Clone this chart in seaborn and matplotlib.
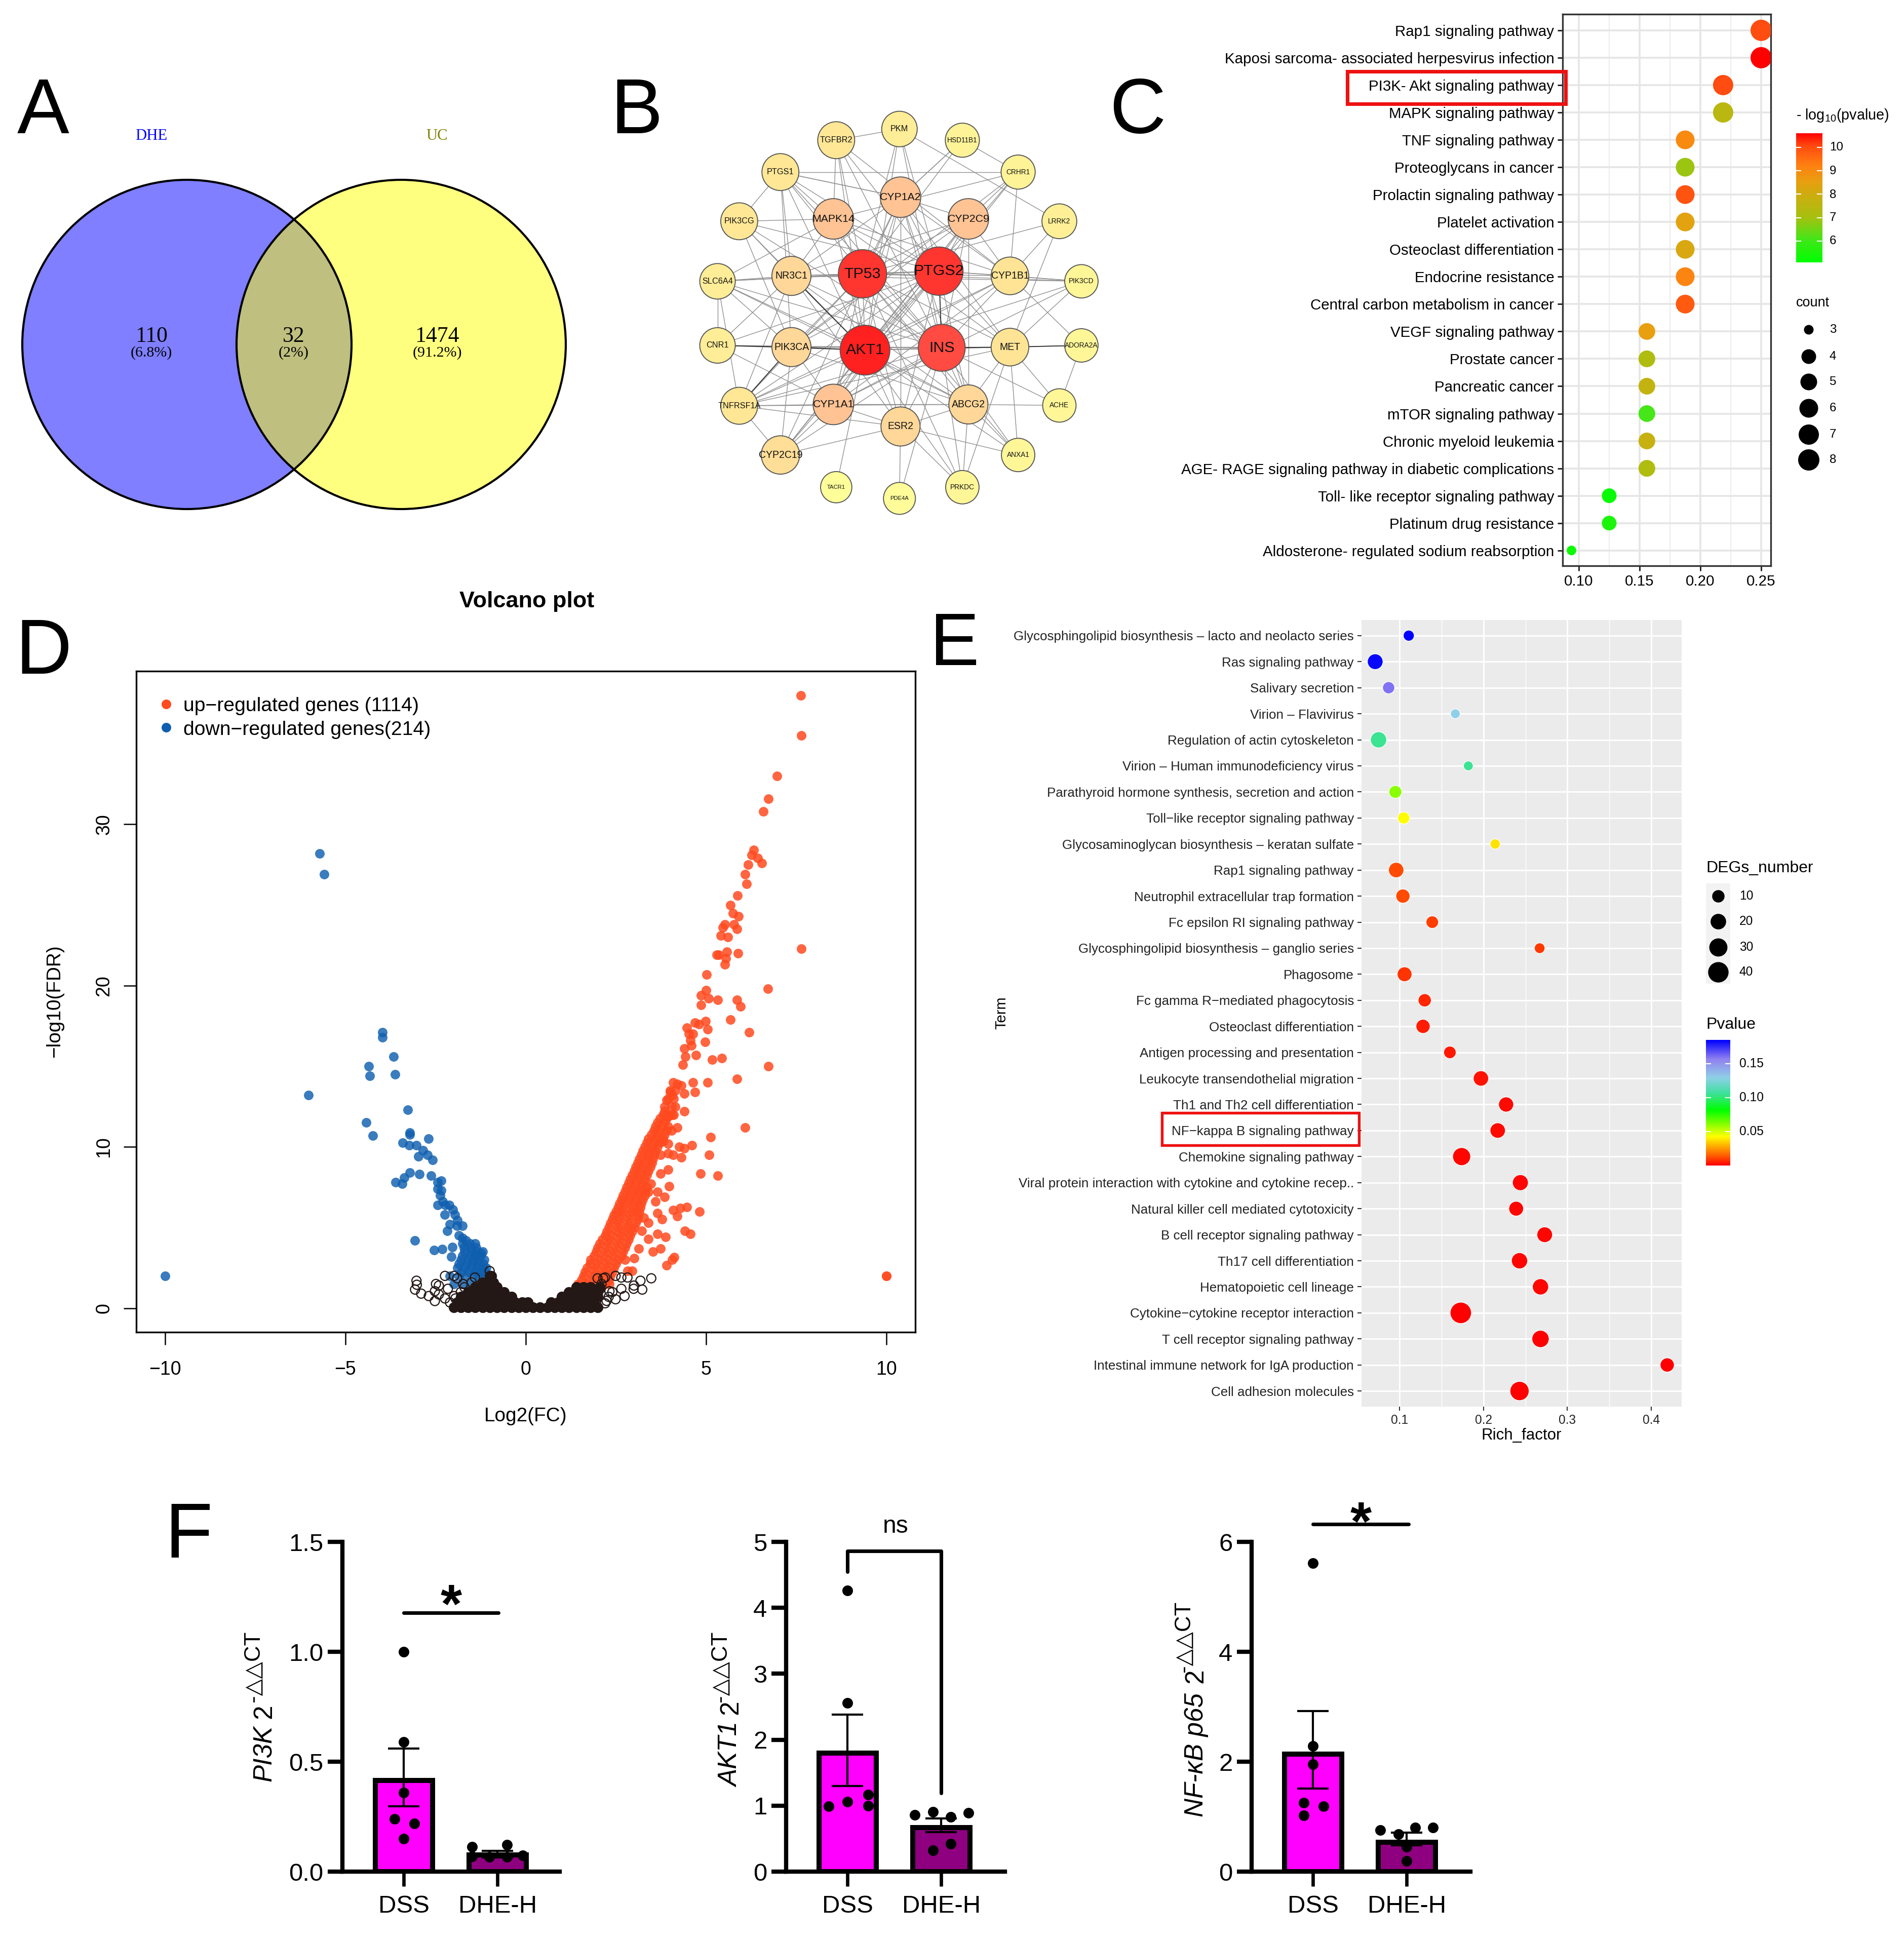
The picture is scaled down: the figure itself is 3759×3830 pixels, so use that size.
import numpy as np
import pandas as pd
import matplotlib
matplotlib.use("Agg")
import matplotlib.pyplot as plt
import seaborn as sns
from matplotlib.collections import LineCollection
from matplotlib.colors import LinearSegmentedColormap
from matplotlib.patches import Circle, Rectangle

# ---------- A: venn ----------
venn_names = ["DHE", "UC"]
venn_counts = ["110", "32", "1474"]
venn_pcts = ["(6.8%)", "(2%)", "(91.2%)"]

# ---------- B: network ----------
gene_names = ["PKM", "TGFBR2", "HSD11B1", "PTGS1", "CRHR1", "CYP1A2", "PIK3CG", "MAPK14", "CYP2C9", "LRRK2",
              "SLC6A4", "NR3C1", "TP53", "PTGS2", "CYP1B1", "PIK3CD", "CNR1", "PIK3CA", "AKT1", "INS", "MET",
              "ADORA2A", "TNFRSF1A", "CYP1A1", "ABCG2", "ACHE", "ESR2", "CYP2C19", "ANXA1", "PRKDC", "TACR1", "PDE4A"]
gene_degree = [10, 12, 8, 12, 8, 17, 12, 17, 17, 9, 10, 15, 28, 28, 13, 7, 10, 15, 30, 26, 13, 7, 12, 17, 15, 7,
               15, 14, 7, 7, 4, 5]
gene_x = [892, 714, 1069, 557, 1226, 895, 441, 706, 1086, 1342, 380, 588, 788, 1003, 1203, 1404, 380, 588, 795,
          1011, 1203, 1404, 441, 706, 1086, 1342, 895, 557, 1226, 1069, 714, 892]
gene_y = [231, 264, 264, 358, 358, 432, 503, 496, 496, 503, 680, 664, 658, 650, 664, 680, 869, 874, 883, 876, 874,
          869, 1047, 1043, 1043, 1046, 1108, 1192, 1192, 1287, 1287, 1320]
gene_links = {
    "AKT1": "TP53 PTGS2 INS MAPK14 NR3C1 PIK3CA MET CYP1A1 ESR2 ABCG2 TNFRSF1A CNR1 CYP2C19 PIK3CG PTGS1 TGFBR2 PKM CRHR1 CYP1A2 CYP2C9 CYP1B1 PIK3CD ANXA1 PRKDC TACR1 SLC6A4 ADORA2A",
    "INS": "TP53 PTGS2 MAPK14 NR3C1 PIK3CA MET CYP1A1 ESR2 ABCG2 TNFRSF1A CYP2C19 PIK3CG PTGS1 TGFBR2 PKM CYP1A2 CYP2C9 CYP1B1 ACHE ANXA1 PRKDC PDE4A SLC6A4 CNR1",
    "TP53": "PTGS2 MAPK14 NR3C1 PIK3CA MET CYP1A1 ESR2 ABCG2 TNFRSF1A CYP1A2 CYP2C9 CYP1B1 PTGS1 TGFBR2 PKM HSD11B1 PIK3CD LRRK2 SLC6A4 ANXA1 PRKDC",
    "PTGS2": "MAPK14 NR3C1 PIK3CA MET CYP1A1 ESR2 ABCG2 TNFRSF1A CYP1A2 CYP2C9 CYP1B1 PTGS1 TGFBR2 PKM CYP2C19 CRHR1 PIK3CD SLC6A4 CNR1 PIK3CG",
    "CYP1A2": "CYP1A1 CYP1B1 CYP2C9 ABCG2 PTGS1 HSD11B1 MET NR3C1 ESR2 CYP2C19",
    "MAPK14": "PIK3CG PTGS1 TGFBR2 NR3C1 CRHR1 SLC6A4 CYP1B1 MET",
    "CYP2C9": "CRHR1 NR3C1 CYP1B1 CYP1A1 ABCG2 PIK3CA CYP2C19",
    "NR3C1": "PIK3CG SLC6A4 CNR1 PTGS1 TNFRSF1A PIK3CD ABCG2 ESR2",
    "PIK3CA": "CNR1 TNFRSF1A SLC6A4 PIK3CG CYP1A1 CRHR1 MET CYP2C19 PTGS1 ABCG2",
    "CYP1B1": "LRRK2 PIK3CD ADORA2A CYP1A1 TNFRSF1A CRHR1 TGFBR2",
    "MET": "ADORA2A ACHE PIK3CD LRRK2 ABCG2 ANXA1 TNFRSF1A PRKDC",
    "CYP1A1": "CYP2C19 ESR2 ABCG2 TNFRSF1A CNR1 PIK3CD",
    "ESR2": "CYP2C19 ANXA1 PDE4A PRKDC ABCG2 TNFRSF1A",
    "ABCG2": "ANXA1 PRKDC ACHE TNFRSF1A SLC6A4",
    "PTGS1": "PIK3CG CYP1A2 CRHR1",
    "SLC6A4": "CNR1 TNFRSF1A",
    "HSD11B1": "CRHR1 CYP1A2",
    "PKM": "LRRK2 TGFBR2",
    "ACHE": "ADORA2A",
    "TNFRSF1A": "CYP2C19",
}

# ---------- C: KEGG bubble ----------
c_terms = ["Rap1 signaling pathway", "Kaposi sarcoma- associated herpesvirus infection", "PI3K- Akt signaling pathway",
           "MAPK signaling pathway", "TNF signaling pathway", "Proteoglycans in cancer", "Prolactin signaling pathway",
           "Platelet activation", "Osteoclast differentiation", "Endocrine resistance",
           "Central carbon metabolism in cancer", "VEGF signaling pathway", "Prostate cancer", "Pancreatic cancer",
           "mTOR signaling pathway", "Chronic myeloid leukemia",
           "AGE- RAGE signaling pathway in diabetic complications", "Toll- like receptor signaling pathway",
           "Platinum drug resistance", "Aldosterone- regulated sodium reabsorption"]
c_rich = [0.25, 0.25, 0.2187, 0.2187, 0.1875, 0.1875, 0.1875, 0.1875, 0.1875, 0.1875, 0.1875, 0.156, 0.156, 0.156,
          0.156, 0.156, 0.156, 0.125, 0.125, 0.094]
c_count = [8, 8, 7, 7, 6, 6, 6, 6, 6, 6, 6, 5, 5, 5, 5, 5, 5, 4, 4, 3]
c_logp = [10.0, 10.6, 10.0, 7.5, 9.0, 6.9, 9.9, 8.4, 8.2, 9.1, 9.8, 8.5, 7.2, 7.7, 6.1, 7.8, 7.2, 5.2, 5.5, 5.3]
c_legend_counts = [3, 4, 5, 6, 7, 8]

# ---------- D: volcano ----------
up_x = [7.63, 7.64, 6.96, 6.73, 6.58, 6.32, 6.27, 6.43, 6.55, 6.17, 6.08, 6.13, 5.87, 5.67, 5.74, 5.9, 5.52, 5.77,
        5.85, 5.47, 5.4, 5.6, 7.64, 5.58, 5.88, 5.3, 5.35, 5.55, 5.52, 5.02, 6.71, 5.0, 4.86, 5.07, 5.32, 5.85, 5.95,
        4.86, 5.68, 4.99, 4.69, 4.81, 4.47, 5.04, 6.2, 4.52, 4.64, 4.56, 4.97, 4.59, 4.39, 4.43, 4.72, 5.17, 5.44,
        4.36, 6.73, 5.85, 4.09, 4.64, 5.04, 4.2, 4.31, 4.0, 4.69, 4.39, 4.06, 3.9, 4.14, 4.39, 4.06, 3.85, 3.95, 6.08,
        4.2, 5.12, 3.81, 3.95, 4.6, 4.26, 4.39, 5.09, 3.95, 3.73, 4.08, 4.31, 4.84, 5.32, 3.95, 3.73, 3.98, 3.47, 3.65,
        3.4, 3.85, 3.6, 4.08, 4.29, 4.47, 4.82, 3.65, 3.78, 4.2, 3.27, 3.4, 4.41, 4.57, 3.65, 3.87, 3.22, 3.4, 3.73,
        4.11, 4.06, 3.91, 3.52, 3.13, 3.0, 2.82, 2.95, 2.32, 10.0, 10.0]
up_y = [38.0, 35.5, 33.0, 31.6, 30.8, 28.4, 28.1, 27.9, 27.6, 27.5, 26.9, 26.3, 25.6, 25.0, 24.5, 24.3, 23.8, 23.8,
        23.5, 23.6, 23.1, 23.0, 22.3, 22.1, 22.0, 21.9, 21.9, 21.7, 21.3, 20.7, 19.8, 19.7, 19.4, 19.2, 19.1, 19.1,
        18.7, 18.8, 17.9, 17.8, 17.7, 17.6, 17.4, 17.3, 17.1, 17.0, 17.0, 16.6, 16.5, 16.3, 16.1, 15.6, 15.7, 15.4,
        15.5, 15.1, 15.0, 14.2, 14.0, 14.0, 14.0, 13.9, 13.8, 13.4, 13.4, 13.3, 13.2, 12.9, 12.5, 12.2, 12.0, 12.2,
        11.9, 11.2, 11.2, 10.6, 10.35, 10.2, 10.1, 10.0, 9.9, 9.5, 9.6, 9.5, 9.5, 9.35, 8.35, 8.2, 8.6, 8.35, 7.55,
        7.7, 7.2, 7.2, 6.9, 6.6, 6.07, 6.2, 6.26, 6.0, 5.9, 5.5, 5.7, 5.6, 5.3, 4.8, 4.6, 4.6, 4.4, 4.8, 4.3, 3.7,
        3.16, 3.0, 2.65, 3.5, 3.7, 3.1, 2.3, 2.3, 1.5, 2.0, 2.0]
# solid band of the up-regulated genes: -log10(FDR) -> Log2(FC) values
up_band = {1.5: [1.45, 1.7, 1.95, 2.2], 1.75: [1.55, 1.8, 2.05, 2.3], 2.0: [1.6, 1.85, 2.1, 2.35],
           2.25: [1.65, 1.9, 2.15, 2.4], 2.5: [1.7, 1.95, 2.2, 2.45], 2.75: [1.78, 2.0, 2.25, 2.5],
           3.0: [1.8, 2.05, 2.3, 2.55, 2.75], 3.25: [1.9, 2.15, 2.4, 2.65], 3.5: [1.95, 2.2, 2.45, 2.7],
           3.75: [2.0, 2.25, 2.5, 2.75], 4.0: [2.05, 2.3, 2.55, 2.8], 4.25: [2.12, 2.35, 2.6, 2.85],
           4.5: [2.2, 2.4, 2.65, 2.9], 4.75: [2.25, 2.5, 2.72, 2.95], 5.0: [2.3, 2.55, 2.8, 3.0],
           5.25: [2.35, 2.58, 2.82, 3.05], 5.5: [2.4, 2.6, 2.85, 3.1], 5.75: [2.45, 2.65, 2.9, 3.12],
           6.0: [2.5, 2.7, 2.95, 3.15], 6.25: [2.55, 2.75, 2.98, 3.18], 6.5: [2.6, 2.8, 3.0, 3.2],
           6.75: [2.65, 2.85, 3.05, 3.25], 7.0: [2.7, 2.9, 3.1, 3.3], 7.25: [2.75, 2.95, 3.15, 3.32],
           7.5: [2.8, 3.0, 3.2, 3.35], 7.75: [2.85, 3.05, 3.25], 8.0: [2.9, 3.1, 3.3], 8.25: [2.95, 3.15, 3.35],
           8.5: [3.0, 3.2, 3.4], 8.75: [3.05, 3.25, 3.45], 9.0: [3.1, 3.3, 3.5], 9.25: [3.15, 3.35, 3.52],
           9.5: [3.2, 3.4, 3.55], 9.75: [3.25, 3.45, 3.6], 10.0: [3.3, 3.5, 3.65], 10.25: [3.35, 3.55, 3.72],
           10.5: [3.4, 3.6, 3.8], 10.75: [3.48, 3.65, 3.85], 11.0: [3.55, 3.7, 3.9, 4.05], 11.25: [3.6, 3.78, 3.95],
           11.5: [3.65, 3.85], 11.75: [3.72, 3.9], 12.0: [3.8, 3.95, 4.1], 12.5: [3.85, 4.05], 13.0: [3.95, 4.1],
           13.5: [4.0, 4.15]}
down_x = [-10.0, -5.72, -5.59, -3.98, -3.98, -3.66, -4.36, -4.33, -3.63, -6.03, -3.27, -4.42, -4.24, -3.22, -3.22,
          -2.7, -3.41, -3.23, -3.03, -2.85, -2.72, -2.98, -2.59, -3.22, -2.95, -3.37, -2.62, -3.61, -3.43, -2.35,
          -2.44, -2.45, -2.35, -2.37, -2.3, -2.44, -2.24, -2.12, -2.02, -2.25, -1.96, -1.89, -2.1, -1.76, -1.91,
          -2.17, -1.86, -3.07, -1.75, -1.66, -2.54, -2.32, -2.04, -2.07, -1.23]
down_y = [2.0, 28.2, 26.9, 17.1, 16.8, 15.6, 15.0, 14.4, 14.5, 13.2, 12.3, 11.5, 10.7, 10.9, 10.75, 10.5, 10.25, 10.1,
          10.1, 9.8, 9.5, 9.4, 9.2, 8.4, 8.3, 8.1, 8.2, 7.8, 7.7, 7.9, 7.8, 7.4, 7.3, 7.0, 6.6, 6.4, 6.4, 6.4, 6.1,
          5.8, 5.8, 5.45, 5.2, 5.1, 5.1, 4.8, 4.5, 4.2, 4.35, 4.2, 3.6, 3.65, 3.8, 3.2, 3.4]
down_band = {4.0: [-1.75, -1.55, -1.4], 3.75: [-1.72, -1.52, -1.38], 3.5: [-1.7, -1.5, -1.35, -1.2],
             3.25: [-1.75, -1.55, -1.4, -1.25], 3.0: [-1.8, -1.6, -1.45, -1.3, -1.15],
             2.75: [-1.85, -1.65, -1.48, -1.32, -1.18], 2.5: [-1.9, -1.7, -1.5, -1.35, -1.2, -1.1],
             2.25: [-1.78, -1.58, -1.4, -1.25, -1.12], 2.0: [-2.1, -1.85, -1.65, -1.45, -1.3, -1.15, -1.0],
             1.5: [-2.0, -1.75, -1.55, -1.35, -1.2, -1.0]}
# not significant genes: the dark mass, then the open rings round it
ns_band = {0.05: [-2.0, -1.8, -1.6, -1.4, -1.2, -1.0, -0.8, -0.6, -0.4, -0.2, 0.0, 0.2, 0.4, 0.6, 0.8, 1.0, 1.2, 1.4,
                  1.6, 1.8, 2.0],
           0.35: [-1.9, -1.7, -1.5, -1.3, -1.1, -0.9, -0.7, -0.5, -0.3, -0.1, 0.05, 0.7, 0.9, 1.1, 1.3, 1.5, 1.7, 1.9],
           0.7: [-1.8, -1.6, -1.4, -1.2, -1.0, -0.8, -0.6, -0.4, 1.0, 1.2, 1.4, 1.6, 1.8, 2.0],
           1.0: [-1.6, -1.4, -1.2, -1.0, -0.8, -0.6, 1.2, 1.4, 1.6, 1.8, 2.0],
           1.3: [-1.4, -1.2, -1.0, -0.8, 1.4, 1.6, 1.8, 2.05],
           1.6: [-1.2, -1.05, -0.9], 2.0: [-1.0, -0.95]}
ns_x = [-3.03, -3.02, -3.07, -2.9, -2.69, -2.52, -2.41, -2.24, -1.99, -1.9, -2.49, -2.52, -2.16, -1.99, -2.41, -2.24,
        -1.74, -1.41, -1.0, 3.48, 3.18, 3.23, 3.0, 2.82, 2.65, 2.49, 2.15, 2.74, 2.49, 2.24, 2.99, 2.65, 2.32, 1.99, 2.07,
        -2.1, -1.95, -1.8, -1.7, -1.5, 2.2, 2.3, 2.4, 2.1, 2.2]
ns_y = [1.7, 1.45, 1.15, 0.9, 0.75, 0.44, 0.85, 2.0, 2.0, 1.85, 1.5, 1.05, 1.2, 0.75, 1.4, 0.6, 1.5, 1.9, 2.3, 1.85,
        1.7, 1.15, 1.4, 1.9, 1.9, 2.0, 1.85, 0.75, 0.55, 0.45, 1.2, 1.2, 1.05, 1.85, 1.2,
        0.35, 0.6, 1.0, 1.3, 1.6, 0.3, 0.7, 1.0, 1.5, 1.9]

# ---------- E: KEGG bubble ----------
e_terms = ["Glycosphingolipid biosynthesis – lacto and neolacto series", "Ras signaling pathway", "Salivary secretion",
           "Virion – Flavivirus", "Regulation of actin cytoskeleton", "Virion – Human immunodeficiency virus",
           "Parathyroid hormone synthesis, secretion and action", "Toll−like receptor signaling pathway",
           "Glycosaminoglycan biosynthesis – keratan sulfate", "Rap1 signaling pathway",
           "Neutrophil extracellular trap formation", "Fc epsilon RI signaling pathway",
           "Glycosphingolipid biosynthesis – ganglio series", "Phagosome", "Fc gamma R−mediated phagocytosis",
           "Osteoclast differentiation", "Antigen processing and presentation",
           "Leukocyte transendothelial migration", "Th1 and Th2 cell differentiation", "NF−kappa B signaling pathway",
           "Chemokine signaling pathway", "Viral protein interaction with cytokine and cytokine recep..",
           "Natural killer cell mediated cytotoxicity", "B cell receptor signaling pathway",
           "Th17 cell differentiation", "Hematopoietic cell lineage", "Cytokine−cytokine receptor interaction",
           "T cell receptor signaling pathway", "Intestinal immune network for IgA production",
           "Cell adhesion molecules"]
e_rich = [0.111, 0.071, 0.087, 0.1665, 0.075, 0.182, 0.095, 0.105, 0.214, 0.096, 0.104, 0.139, 0.267, 0.106, 0.130,
          0.128, 0.160, 0.197, 0.227, 0.217, 0.174, 0.244, 0.239, 0.273, 0.243, 0.268, 0.173, 0.268, 0.419, 0.243]
e_number = [6, 20, 9, 3, 22, 3, 11, 9, 4, 19, 15, 10, 5, 17, 12, 15, 10, 19, 18, 19, 29, 21, 17, 20, 22, 22, 44, 26,
            15, 34]
e_pvalue = [0.185, 0.183, 0.160, 0.130, 0.105, 0.105, 0.060, 0.042, 0.038, 0.012, 0.012, 0.010, 0.009, 0.008, 0.006,
            0.005, 0.004, 0.003, 0.002, 0.002, 0.001, 0.001, 0.001, 0.001, 0.0008, 0.0008, 0.0005, 0.0005, 0.0005,
            0.0005]
e_legend_numbers = [10, 20, 30, 40]

# ---------- F: qPCR bars ----------
groups = ["DSS", "DHE-H"]
pi3k_mean = [0.415, 0.075]
pi3k_err = [(0.297, 0.561), (0.065, 0.095)]
pi3k_dss = [1.0, 0.59, 0.36, 0.24, 0.22, 0.15]
pi3k_dhe = [0.112, 0.123, 0.067, 0.067, 0.074, 0.07]
akt1_mean = [1.80, 0.665]
akt1_err = [(1.30, 2.38), (0.60, 0.81)]
akt1_dss = [4.26, 2.56, 1.17, 1.06, 1.0, 0.99]
akt1_dhe = [0.86, 0.91, 0.89, 0.83, 0.42, 0.32]
nfkb_mean = [2.135, 0.535]
nfkb_err = [(1.51, 2.92), (0.48, 0.71)]
nfkb_dss = [5.61, 2.29, 1.95, 1.25, 1.19, 1.02]
nfkb_dhe = [0.76, 0.68, 0.80, 0.80, 0.45, 0.19]

W, H = 3759, 3830
PX = 72 / 300  # one picture pixel in points

sns.set_theme(style="white")
plt.rcParams["font.family"] = ["Liberation Sans", "DejaVu Sans"]
plt.rcParams["mathtext.fontset"] = "custom"
plt.rcParams["mathtext.rm"] = "Liberation Sans"
plt.rcParams["mathtext.it"] = "Liberation Sans:italic"
plt.rcParams["mathtext.default"] = "regular"
plt.rcParams["axes.unicode_minus"] = False
plt.rcParams["text.color"] = "black"
plt.rcParams["xtick.color"] = "black"
plt.rcParams["ytick.color"] = "black"

fig = plt.figure(figsize=(W / 300, H / 300), dpi=300, facecolor="white")


def add_ax(x0, y0, x1, y1, **kw):
    return fig.add_axes([x0 / W, 1 - y1 / H, (x1 - x0) / W, (y1 - y0) / H], **kw)


def area(d):
    return (d * PX) ** 2


page = fig.add_axes([0, 0, 1, 1], zorder=10)
page.set_xlim(0, W)
page.set_ylim(H, 0)
page.axis("off")
page.patch.set_alpha(0)

for letter, lx, ly, fs in [("A", 34, 263, 37), ("B", 1205, 263, 37), ("C", 2190, 263, 37), ("D", 30, 1330, 37),
                           ("E", 1836, 1313, 35), ("F", 325, 3075, 37)]:
    page.text(lx, ly, letter, fontsize=fs, va="baseline", ha="left", color="black")

# A
ax_a = add_ax(0, 300, 1180, 1030)
ax_a.set_xlim(0, 1180)
ax_a.set_ylim(1030, 300)
ax_a.axis("off")
for cx, col in [(369, "#0000FF"), (792, "#FFFF00")]:
    ax_a.add_patch(Circle((cx, 680), 325, facecolor=col, edgecolor="none", alpha=0.5))
for cx in [369, 792]:
    ax_a.add_patch(Circle((cx, 680), 325, facecolor="none", edgecolor="black", lw=1.0))
serif = "Liberation Serif"
page.text(299, 268, venn_names[0], color="#0000FF", family=serif, fontsize=7.4, ha="center", va="center")
page.text(863, 268, venn_names[1], color="#808000", family=serif, fontsize=7.4, ha="center", va="center")
for tx, cnt, pct in zip([299, 580, 863], venn_counts, venn_pcts):
    page.text(tx, 664, cnt, family=serif, fontsize=10.5, ha="center", va="center", color="black")
    page.text(tx, 697, pct, family=serif, fontsize=7.2, ha="center", va="center", color="black")

# B
ax_b = add_ax(1150, 100, 2250, 1150)
ax_b.set_xlim(0, 1568)
ax_b.set_ylim(1568, 0)
ax_b.axis("off")
nodes = pd.DataFrame({"gene": gene_names, "deg": gene_degree, "x": gene_x, "y": gene_y}).set_index("gene")
segs = []
dark = []
for a, others in gene_links.items():
    for b in others.split():
        seg = [(nodes.x[a], nodes.y[a]), (nodes.x[b], nodes.y[b])]
        if (a, b) in [("AKT1", "NR3C1"), ("PIK3CA", "TNFRSF1A"), ("INS", "MET"), ("PIK3CA", "CNR1"), ("MET", "ADORA2A"),
                      ("INS", "PTGS2"), ("AKT1", "PIK3CA")]:
            dark.append(seg)
        else:
            segs.append(seg)
ax_b.add_collection(LineCollection(segs, colors="#909090", linewidths=0.33, zorder=1))
ax_b.add_collection(LineCollection(dark, colors="#333333", linewidths=0.45, zorder=1))
node_cmap = LinearSegmentedColormap.from_list("degree", [(0, "#FFFF99"), (0.35, "#FFE496"), (0.42, "#FFD898"),
                                                         (0.5, "#FFC494"), (0.85, "#FF4A40"), (1, "#FF2020")])
node_sizes = {d: area(2 * (d + 40) / 1.4255) for d in set(gene_degree)}
sns.scatterplot(data=nodes.reset_index(), x="x", y="y", hue="deg", palette=node_cmap, hue_norm=(4, 30), size="deg",
                sizes=node_sizes, edgecolor="#555555", linewidth=0.45, legend=False, ax=ax_b, zorder=3)
ax_b.set_xlabel("")
ax_b.set_ylabel("")
for g, row in nodes.iterrows():
    d = row.deg
    fs = 2.7 if d <= 5 else 3.3 if d <= 9 else 3.9 if d <= 12 else 4.7 if d <= 15 else 5.1 if d <= 17 else 7.3
    ax_b.text(row.x, row.y, g, fontsize=fs, ha="center", va="center", color="#111111", zorder=4)

# C
ax_c = add_ax(3085, 28, 3496, 1117)
c_df = pd.DataFrame({"term": c_terms, "rich": c_rich, "count": c_count, "logp": c_logp})
c_cmap = LinearSegmentedColormap.from_list("c", [(0, "#00FF00"), (0.17, "#40E818"), (0.35, "#A8C010"), (0.5, "#C8B010"),
                                                 (0.62, "#E8A010"), (0.75, "#FF8010"), (0.9, "#FF4A10"), (1, "#FF0000")])
c_norm = (5.09, 10.6)
c_sizes = {3: area(19), 4: area(29), 5: area(33), 6: area(37), 7: area(40), 8: area(42)}
sns.scatterplot(data=c_df, x="rich", y="term", hue="logp", palette=c_cmap, hue_norm=c_norm, size="count", sizes=c_sizes,
                edgecolor="none", legend=False, ax=ax_c, zorder=3)
ax_c.set_xlim(0.0867, 0.2579)
ax_c.set_ylim(19.56, -0.59)
ax_c.set_xlabel("")
ax_c.set_ylabel("")
ax_c.set_xticks([0.10, 0.15, 0.20, 0.25], ["0.10", "0.15", "0.20", "0.25"])
ax_c.set_xticks([0.125, 0.175, 0.225], minor=True)
ax_c.set_axisbelow(True)
ax_c.grid(True, which="major", color="#E6E6E6", lw=0.9)
ax_c.grid(True, which="minor", axis="x", color="#EDEDED", lw=0.5)
ax_c.tick_params(axis="both", which="major", length=2.5, width=0.7, labelsize=7.1, pad=1.5, color="#222222",
                 bottom=True, left=True, labelcolor="black")
ax_c.tick_params(axis="x", which="minor", length=0)
for s in ax_c.spines.values():
    s.set_color("#333333")
    s.set_linewidth(0.8)


def gradient_bar(x0, y0, x1, y1, cmap, low, high, ticks):
    cb = add_ax(x0, y0, x1, y1)
    cb.imshow(np.linspace(1, 0, 256).reshape(-1, 1), cmap=cmap, aspect="auto", extent=(0, 1, low, high), vmin=0, vmax=1)
    cb.axis("off")
    cb.hlines(ticks, 0, 0.2, color="white", lw=0.5)
    cb.hlines(ticks, 0.8, 1, color="white", lw=0.5)


gradient_bar(3546, 263, 3597, 518, c_cmap, c_norm[0], c_norm[1], [6, 7, 8, 9, 10])
page.text(3546, 228, "- log$_{10}$(pvalue)", fontsize=6.9, va="center", ha="left")
for val, ty in zip(["10", "9", "8", "7", "6"], [291, 338, 385, 430, 476]):
    page.text(3612, ty, val, fontsize=5.8, va="center", ha="left")
page.text(3546, 598, "count", fontsize=6.5, va="center", ha="left")
c_leg_y = [651, 704, 754, 806, 858, 908]
sns.scatterplot(x=[3571] * 6, y=c_leg_y, size=c_legend_counts, sizes=c_sizes, color="black", edgecolor="none",
                legend=False, ax=page)
page.set_xlabel("")
page.set_ylabel("")
for val, ty in zip(c_legend_counts, c_leg_y):
    page.text(3612, ty, str(val), fontsize=5.8, va="center", ha="left")
page.add_patch(Rectangle((2660, 141), 431, 64, fill=False, edgecolor="#EE1111", lw=1.7))

# D
ax_d = add_ax(269, 1325, 1807, 2630)
ub_x = [v for row in up_band.values() for v in row]
ub_y = [k for k, row in up_band.items() for v in row]
db_x = [v for row in down_band.values() for v in row]
db_y = [k for k, row in down_band.items() for v in row]
nb_x = [v for row in ns_band.values() for v in row]
nb_y = [k for k, row in ns_band.items() for v in row]
dot = area(19)
sns.scatterplot(x=up_x + ub_x, y=up_y + ub_y, color="#FF4A1F", s=dot, alpha=0.85, linewidth=0, ax=ax_d)
sns.scatterplot(x=down_x + db_x, y=down_y + db_y, color="#0F5FAF", s=dot, alpha=0.82, linewidth=0, ax=ax_d)
sns.scatterplot(x=nb_x, y=nb_y, color="#231815", s=dot * 1.25, linewidth=0, ax=ax_d)
ax_d.scatter(ns_x, ns_y, facecolors="none", edgecolors="#231815", s=dot * 0.9, linewidths=0.55)
ax_d.set_xlim(-10.8, 10.8)
ax_d.set_ylim(-1.49, 39.5)
ax_d.set_xticks([-10, -5, 0, 5, 10], ["−10", "−5", "0", "5", "10"])
ax_d.set_yticks([0, 10, 20, 30])
ax_d.tick_params(axis="x", length=6, width=0.6, labelsize=9, color="black", bottom=True, pad=7.5)
ax_d.tick_params(axis="y", length=6, width=0.6, labelsize=9, color="black", left=True, pad=5)
for t in ax_d.get_yticklabels():
    t.set_rotation(90)
    t.set_va("center")
for s in ax_d.spines.values():
    s.set_color("black")
    s.set_linewidth(0.8)
ax_d.set_xlabel("")
ax_d.set_ylabel("")
page.text(1038, 2796, "Log2(FC)", fontsize=9.3, ha="center", va="center")
page.text(108, 1977, "−log10(FDR)", fontsize=9.3, ha="center", va="center", rotation=90)
page.text(1040, 1187, "Volcano plot", fontsize=10.8, fontweight="bold", ha="center", va="center")
page.scatter([328], [1390], s=dot, color="#FF4A1F", linewidth=0)
page.scatter([328], [1436], s=dot, color="#0F5FAF", linewidth=0)
page.text(362, 1394, "up−regulated genes (1114)", fontsize=9.4, va="center", ha="left")
page.text(362, 1441, "down−regulated genes(214)", fontsize=9.4, va="center", ha="left")

# E
ax_e = add_ax(2687.5, 1224, 3320, 2777)
ax_e.set_facecolor("#EBEBEB")
e_df = pd.DataFrame({"term": e_terms, "rich": e_rich, "num": e_number, "p": e_pvalue})
e_cmap = LinearSegmentedColormap.from_list("e", [(0, "#FF0000"), (0.08, "#FF6000"), (0.23, "#FFFF00"), (0.44, "#00FF00"),
                                                 (0.58, "#40E0A0"), (0.70, "#90D0E8"), (0.85, "#9080F0"), (1, "#0000FF")])
e_size_range = (area(19), area(42))
sns.scatterplot(data=e_df, x="rich", y="term", hue="p", palette=e_cmap, hue_norm=(0, 0.185), size="num",
                sizes=e_size_range, size_norm=(3, 44), edgecolor="white", linewidth=0.3, legend=False, ax=ax_e, zorder=3)
ax_e.set_xlim(0.0544, 0.4362)
ax_e.set_ylim(29.6, -0.6)
ax_e.set_xlabel("")
ax_e.set_ylabel("")
ax_e.set_xticks([0.1, 0.2, 0.3, 0.4], ["0.1", "0.2", "0.3", "0.4"])
ax_e.set_xticks([0.15, 0.25, 0.35], minor=True)
ax_e.set_axisbelow(True)
ax_e.grid(True, which="major", color="white", lw=0.7)
ax_e.grid(True, which="minor", axis="x", color="white", lw=0.35)
ax_e.tick_params(axis="y", which="major", length=2, width=0.5, labelsize=6.25, pad=1.5, color="#333333",
                 left=True, labelcolor="#222222")
ax_e.tick_params(axis="x", which="major", length=2, width=0.5, labelsize=5.9, pad=1.5, color="#333333",
                 bottom=True, labelcolor="#222222")
ax_e.tick_params(axis="x", which="minor", length=0)
for s in ax_e.spines.values():
    s.set_visible(False)
page.text(1977, 2000, "Term", fontsize=7, rotation=90, ha="center", va="center")
page.text(3004, 2834, "Rich_factor", fontsize=7.5, ha="center", va="center")
page.text(3368, 1714, "DEGs_number", fontsize=7.7, ha="left", va="center")
page.add_patch(Rectangle((3368, 1744), 48, 198, facecolor="#F2F2F2", edgecolor="none"))
e_leg_y = [1769, 1819, 1870, 1919]
for val, ty in zip(e_legend_numbers, e_leg_y):
    frac = (val - 3) / 41
    page.scatter([3392], [ty], s=e_size_range[0] + frac * (e_size_range[1] - e_size_range[0]), color="black",
                 linewidth=0, zorder=5)
    page.text(3434, ty, str(val), fontsize=5.9, va="center", ha="left")
page.text(3368, 2023, "Pvalue", fontsize=7.7, ha="left", va="center")
gradient_bar(3368, 2053, 3416, 2301, e_cmap, 0, 0.185, [0.05, 0.10, 0.15])
for val, ty in zip(["0.15", "0.10", "0.05"], [2100, 2167.5, 2234]):
    page.text(3434, ty, val, fontsize=5.9, va="center", ha="left")
page.add_patch(Rectangle((2294, 2197), 389, 64, fill=False, edgecolor="#EE1111", lw=1.3))

# F
rose = "#FF00FF"
plum = "#8E0080"


def bar_panel(x0, x1, top, ticks, labels, mean, err, dss, dhe, off_dss, off_dhe):
    ax = add_ax(x0, 3044, x1, 3695)
    df = pd.DataFrame({"group": groups, "mean": mean})
    sns.barplot(data=df, x="group", y="mean", hue="group", palette=[rose, plum], width=0.61, saturation=1,
                edgecolor="black", linewidth=2.4, errorbar=None, legend=False, ax=ax, zorder=2)
    for pos, (lo, hi), m in zip([0, 1], err, mean):
        ax.errorbar([pos], [m], yerr=[[m - lo], [hi - m]], color="black", lw=1.0, capsize=7.5, capthick=1.0,
                    zorder=3, clip_on=False)
    sns.scatterplot(x=np.array(off_dss), y=dss, color="black", s=area(21), linewidth=0, ax=ax, zorder=4, clip_on=False)
    sns.scatterplot(x=1 + np.array(off_dhe), y=dhe, color="black", s=area(21), linewidth=0, ax=ax, zorder=4,
                    clip_on=False)
    ax.set_xlim(-0.655, (x1 - x0) / 185 - 0.655)
    ax.set_ylim(0, top)
    ax.set_yticks(ticks, labels)
    ax.set_xticks([0, 1], groups)
    ax.set_xlabel("")
    ax.set_ylabel("")
    sns.despine(ax=ax)
    for side in ["left", "bottom"]:
        ax.spines[side].set_linewidth(2.0)
        ax.spines[side].set_color("black")
        ax.spines[side].set_zorder(5)
    ax.tick_params(axis="y", length=7, width=2.0, labelsize=11.8, pad=2, color="black", left=True)
    ax.tick_params(axis="x", length=7, width=1.6, labelsize=11.8, pad=4, color="black", bottom=True)
    ax.patch.set_alpha(0)
    return ax


ax_f1 = bar_panel(676, 1105, 1.5, [0, 0.5, 1.0, 1.5], ["0.0", "0.5", "1.0", "1.5"], pi3k_mean, pi3k_err, pi3k_dss,
                  pi3k_dhe, [0, 0, 0, -0.1, 0.11, 0], [-0.27, 0.1, -0.09, 0.1, 0.27, -0.27])
ax_f1.plot([0, 1.01], [1.177, 1.177], color="black", lw=1.7, clip_on=False)

ax_f2 = bar_panel(1552, 1984, 5, [0, 1, 2, 3, 4, 5], ["0", "1", "2", "3", "4", "5"], akt1_mean, akt1_err, akt1_dss,
                  akt1_dhe, [0, 0, 0.22, 0, 0.22, -0.2], [-0.28, -0.09, 0.29, 0.1, 0.1, -0.09])
ax_f2.plot([0, 0, 1, 1], [4.55, 4.86, 4.86, 1.19], color="black", lw=1.7, clip_on=False)

ax_f3 = bar_panel(2471, 2903, 6, [0, 2, 4, 6], ["0", "2", "4", "6"], nfkb_mean, nfkb_err, nfkb_dss, nfkb_dhe,
                  [0, 0, 0, -0.1, 0.11, -0.1], [-0.28, -0.09, 0.09, 0.28, 0, 0])
ax_f3.plot([0, 1.02], [6.32, 6.32], color="black", lw=1.7, clip_on=False)

page.text(891, 3203, "*", fontsize=26, fontweight="bold", ha="center", va="baseline")
page.text(2687, 3040, "*", fontsize=26, fontweight="bold", ha="center", va="baseline")
page.text(1768, 3013, "ns", fontsize=11.5, ha="center", va="center")

for gene, xg, yg, x2, y2, xs, ys in [("PI3K", 522, 3517, 522, 3393, 500, 3360),
                                     ("AKT1", 1443, 3528, 1443, 3385, 1422, 3360),
                                     ("NF-κB p65", 2361, 3587, 2361, 3323, 2337, 3301)]:
    page.text(xg, yg, gene, fontsize=12.3, style="italic", rotation=90, ha="center", va="bottom")
    page.text(x2, y2, "2", fontsize=12.3, rotation=90, ha="center", va="bottom")
    page.text(xs, ys, "-△△CT", fontsize=10.5, rotation=90, ha="center", va="bottom")

page.set_xlim(0, W)
page.set_ylim(H, 0)
fig.savefig("out.png", dpi=300, facecolor="white")
